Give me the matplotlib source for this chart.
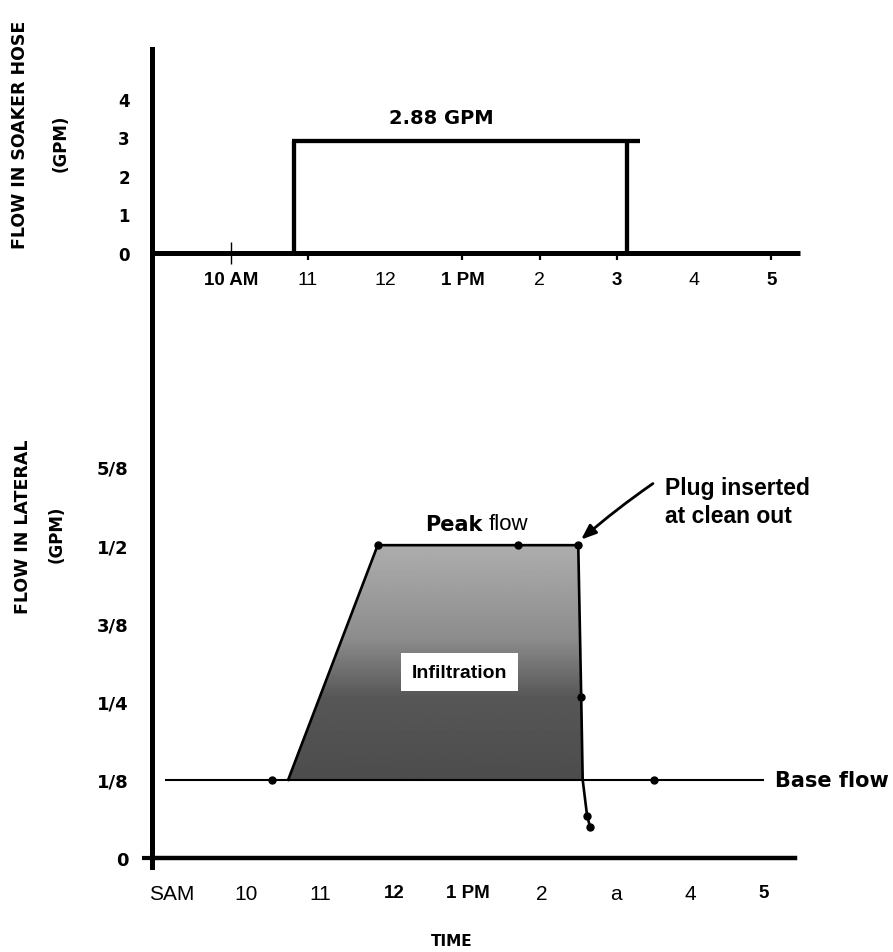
import matplotlib
matplotlib.use("Agg")
import matplotlib.pyplot as plt
import numpy as np
from matplotlib.patches import Polygon

plt.rcParams['font.family'] = ['DejaVu Sans']

# ---------------- data ----------------
# upper panel: flow in soaker hose (GPM) vs time of day (hours, 24h clock)
top_hours = [10, 11, 12, 13, 14, 15, 16, 17]
top_labels = ['10 AM', '11', '12', '1 PM', '2', '3', '4', '5']
top_label_bold = [True, False, False, True, False, True, False, True]
top_tick_mark = [True, True, False, True, True, True, False, True]
hose_yticks = [0, 1, 2, 3, 4]
hose_on = 10.82
hose_off = 15.13
hose_flow = 2.9
hose_label = '2.88 GPM'

# lower panel: flow in lateral (GPM)
bot_hours = [9, 10, 11, 12, 13, 14, 15, 16, 17]
bot_labels = ['SAM', '10', '11', '12', '1 PM', '2', 'a', '4', '5']
bot_label_bold = [False, False, False, True, True, False, False, False, True]
lat_yticks = [0, 0.125, 0.25, 0.375, 0.5, 0.625]
lat_ylabels = ['0', '1/8', '1/4', '3/8', '1/2', '5/8']

base_flow = 0.125
base_start, base_end = 8.91, 17.0
lat_time = [10.57, 11.78, 13.68, 14.49, 14.53, 14.55, 14.61, 14.65]
lat_flow = [0.125, 0.5, 0.5, 0.5, 0.257, 0.125, 0.067, 0.050]
pts_time = [10.35, 11.78, 13.68, 14.49, 14.53, 14.61, 14.65, 15.51]
pts_flow = [0.125, 0.5, 0.5, 0.5, 0.257, 0.067, 0.050, 0.125]
infil_time = [10.57, 11.78, 14.49, 14.55]
infil_flow = [0.125, 0.5, 0.5, 0.125]

# ---------------- figure ----------------
W, H = 893, 953
fig = plt.figure(figsize=(W / 100, H / 100), dpi=100)

def fx(px):
    return px / W

def fy(py):
    return 1 - py / H

ax2 = fig.add_axes([fx(152), fy(868), fx(795 - 152), (868 - 254) / H])
ax1 = fig.add_axes([fx(152), fy(254), fx(800 - 152), (254 - 50) / H])
ax2.patch.set_visible(False)
ax1.patch.set_visible(False)
ax1.set_zorder(3)

# ---- upper panel ----
ax1.set_xlim(8.98, 17.37)
ax1.set_ylim(0, 5.285)
for s in ['top', 'right']:
    ax1.spines[s].set_visible(False)
ax1.spines['left'].set_linewidth(3.6)
ax1.spines['bottom'].set_linewidth(3.6)
ax1.spines['bottom'].set_capstyle('butt')

ax1.vlines([hose_on, hose_off], 0, hose_flow, color='black', lw=3.1)
ax1.hlines(hose_flow, hose_on - 0.03, hose_off + 0.17, color='black', lw=3.1)
ax1.text((hose_on + hose_off) / 2 - 0.25, hose_flow + 0.6, hose_label,
         ha='center', va='center', fontsize=14, fontweight='bold',
         family='DejaVu Sans')

ax1.set_xticks(top_hours)
ax1.set_xticklabels(top_labels)
ax1.tick_params(axis='x', direction='out', length=5, width=1.6, pad=8)
for tk, show in zip(ax1.xaxis.get_major_ticks(), top_tick_mark):
    tk.tick1line.set_visible(show)
first = ax1.xaxis.get_major_ticks()[0].tick1line
first.set_marker('|')
first.set_markersize(16)
first.set_markeredgewidth(1.0)
first.set_color('#444444')
for lbl, b in zip(ax1.get_xticklabels(), top_label_bold):
    lbl.set_family('Liberation Sans')
    lbl.set_fontweight('bold' if b else 'normal')
    lbl.set_fontsize(13.5 if b else 14)
ax1.set_yticks(hose_yticks)
ax1.set_yticklabels([str(v) for v in hose_yticks])
ax1.tick_params(axis='y', length=0, pad=16, labelsize=12)
for lbl in ax1.get_yticklabels():
    lbl.set_fontweight('bold')

# ---- lower panel ----
ax2.set_xlim(8.73, 17.419)
ax2.set_ylim(-0.0144, 0.967)
for s in ['top', 'right']:
    ax2.spines[s].set_visible(False)
ax2.spines['left'].set_linewidth(3.6)
ax2.spines['bottom'].set_linewidth(3.2)
ax2.spines['bottom'].set_position(('data', 0))

# stippled infiltration area (grey gradient: darker near base)
poly = Polygon(list(zip(infil_time, infil_flow)), closed=True,
               facecolor='none', edgecolor='none')
ax2.add_patch(poly)
grad = np.interp(np.linspace(0, 1, 200), [0, 0.35, 0.6, 1.0],
                 [0.30, 0.34, 0.55, 0.68]).reshape(-1, 1)
im = ax2.imshow(grad, cmap='gray', vmin=0, vmax=1, origin='lower',
                extent=[min(infil_time), max(infil_time),
                        min(infil_flow), max(infil_flow)],
                aspect='auto', interpolation='bilinear', zorder=1)
im.set_clip_path(poly)
ax2.set_xlim(8.73, 17.419)
ax2.set_ylim(-0.0144, 0.967)

ax2.hlines(base_flow, base_start, base_end, color='black', lw=1.5, zorder=3)
ax2.plot(lat_time, lat_flow, color='black', lw=1.9, zorder=3)
ax2.plot(pts_time, pts_flow, 'o', color='black', ms=5, zorder=4)

ax2.text(12.89, 0.297, 'Infiltration', ha='center', va='center',
         fontsize=14, family='Liberation Sans', fontweight='bold', zorder=5,
         bbox=dict(boxstyle='square,pad=0.55', facecolor='white',
                   edgecolor='none'))
ax2.text(13.20, 0.534, 'Peak', ha='right', va='center', fontsize=15,
         fontweight='bold', family='DejaVu Sans')
ax2.text(13.28, 0.534, 'flow', ha='left', va='center', fontsize=16,
         family='Liberation Sans')
ax2.text(17.15, base_flow, 'Base flow', ha='left', va='center',
         fontsize=15, fontweight='bold', family='DejaVu Sans', clip_on=False)
ax2.text(15.66, 0.570, 'Plug inserted\nat clean out', ha='left', va='center',
         fontsize=16.5, fontweight='bold', family='Liberation Sans',
         linespacing=1.3)
ax2.annotate('', xy=(14.50, 0.506), xytext=(15.53, 0.601),
             arrowprops=dict(arrowstyle='-|>,head_length=0.9,head_width=0.35',
                             color='black', lw=2,
                             connectionstyle='arc3,rad=0.03'))

ax2.set_xticks(bot_hours)
ax2.set_xticklabels(bot_labels)
ax2.tick_params(axis='x', length=0, pad=19)
for lbl, b in zip(ax2.get_xticklabels(), bot_label_bold):
    lbl.set_family('Liberation Sans')
    lbl.set_fontweight('bold' if b else 'normal')
    lbl.set_fontsize(13.5 if b else 15)
ax2.set_yticks(lat_yticks)
ax2.set_yticklabels(lat_ylabels)
ax2.tick_params(axis='y', length=0, pad=17, labelsize=13)
for lbl in ax2.get_yticklabels():
    lbl.set_fontweight('bold')
t0 = ax2.yaxis.get_major_ticks()[0]
t0.tick1line.set_markersize(7)
t0.tick1line.set_markeredgewidth(3)

# axis titles
fig.text(fx(20), fy(135), 'FLOW IN SOAKER HOSE', rotation=90, ha='center',
         va='center', fontsize=12.5, fontweight='bold')
fig.text(fx(61), fy(143), '(GPM)', rotation=90, ha='center', va='center',
         fontsize=12, fontweight='bold')
fig.text(fx(23), fy(527), 'FLOW IN LATERAL', rotation=90, ha='center',
         va='center', fontsize=12.5, fontweight='bold')
fig.text(fx(57), fy(534), '(GPM)', rotation=90, ha='center', va='center',
         fontsize=12, fontweight='bold')
fig.text(fx(452), fy(942), 'TIME', ha='center', va='center', fontsize=11,
         fontweight='bold')

fig.savefig('out.png', dpi=100)
